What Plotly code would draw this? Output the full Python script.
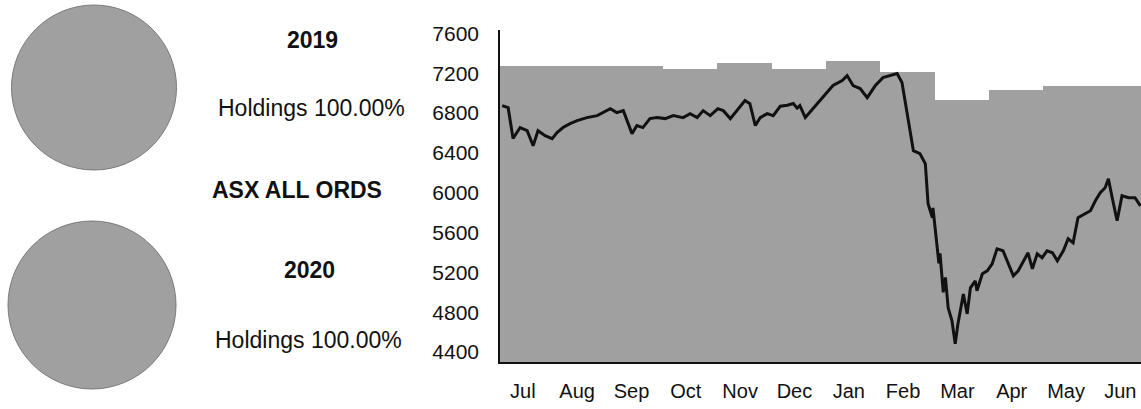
import plotly.graph_objects as go

# ---- data ----
months = ["Jul", "Aug", "Sep", "Oct", "Nov", "Dec", "Jan", "Feb", "Mar", "Apr", "May", "Jun"]
month_bar_values = [7278, 7275, 7270, 7245, 7300, 7245, 7325, 7210, 6935, 7035, 7070, 7070]

# line: position in months since 1 Jul 2019, and ASX All Ords level
line_month_pos = [
    0.04, 0.15, 0.24, 0.37, 0.50, 0.61, 0.70, 0.83, 0.96, 1.05, 1.16, 1.29, 1.42, 1.60, 1.79,
    2.03, 2.15, 2.27, 2.43, 2.52, 2.63, 2.76, 2.89, 3.04, 3.19, 3.37, 3.50, 3.63, 3.74, 3.87,
    4.01, 4.11, 4.24, 4.36, 4.51, 4.60, 4.70, 4.79, 4.92, 5.03, 5.16, 5.29, 5.40, 5.47, 5.52,
    5.62, 5.76, 5.95, 6.13, 6.30, 6.39, 6.50, 6.63, 6.76, 6.91, 7.05, 7.18, 7.31, 7.40, 7.51,
    7.61, 7.73, 7.83, 7.88, 7.96, 7.97, 8.05, 8.08, 8.10, 8.16, 8.20, 8.25, 8.32, 8.38, 8.43,
    8.53, 8.60, 8.66, 8.75, 8.78, 8.88, 8.97, 9.06, 9.15, 9.26, 9.36, 9.45, 9.54, 9.67, 9.72,
    9.80, 9.89, 9.98, 10.07, 10.17, 10.26, 10.37, 10.46, 10.55, 10.64, 10.77, 10.87, 10.96,
    11.05, 11.14, 11.20, 11.27, 11.36, 11.45, 11.57, 11.69, 11.79,
]
line_values = [
    6876, 6855, 6545, 6655, 6624, 6473, 6624, 6574, 6544, 6604, 6655, 6695, 6725, 6755, 6775,
    6845, 6805, 6825, 6594, 6675, 6655, 6745, 6755, 6745, 6775, 6755, 6795, 6755, 6825, 6775,
    6845, 6825, 6745, 6825, 6926, 6895, 6675, 6755, 6795, 6775, 6870, 6880, 6896, 6850, 6876,
    6755, 6845, 6956, 7077, 7127, 7177, 7077, 7047, 6956, 7077, 7157, 7177, 7197, 7107, 6725,
    6423, 6393, 6292, 5890, 5749, 5849, 5447, 5290, 5390, 5000, 5150, 4844, 4713, 4482, 4683,
    4984, 4783, 5045, 5115, 5015, 5186, 5216, 5286, 5437, 5417, 5286, 5166, 5216, 5347, 5397,
    5236, 5387, 5347, 5417, 5397, 5316, 5417, 5538, 5497, 5749, 5789, 5819, 5920,
    6000, 6051, 6140, 5950, 5719, 5970, 5950, 5950, 5869,
]

y_ticks = [4400, 4800, 5200, 5600, 6000, 6400, 6800, 7200, 7600]

holdings_2019 = [100.0]
holdings_2020 = [100.0]

# ---- style ----
GREY = "#a0a0a0"
FONT = "Liberation Sans, Arial, sans-serif"
W, H = 1141, 409

fig = go.Figure()

fig.add_trace(go.Bar(
    x=[i + 0.5 for i in range(len(months))],
    y=month_bar_values,
    width=1.0,
    marker=dict(color=GREY, line=dict(width=0)),
    hoverinfo="skip",
    showlegend=False,
))

fig.add_trace(go.Scatter(
    x=line_month_pos,
    y=line_values,
    mode="lines",
    line=dict(color="#111111", width=3),
    hoverinfo="skip",
    showlegend=False,
))

pie_common = dict(
    labels=["Holdings"],
    marker=dict(colors=[GREY], line=dict(color="#7a7a7a", width=1)),
    textinfo="none",
    hoverinfo="skip",
    sort=False,
    showlegend=False,
)
fig.add_trace(go.Pie(values=holdings_2019,
                     domain=dict(x=[10 / W, 178 / W], y=[(H - 170) / H, (H - 5) / H]),
                     **pie_common))
fig.add_trace(go.Pie(values=holdings_2020,
                     domain=dict(x=[7 / W, 177 / W], y=[(H - 389) / H, (H - 221) / H]),
                     **pie_common))

fig.update_layout(
    width=W, height=H,
    margin=dict(l=0, r=0, t=0, b=0),
    paper_bgcolor="white",
    plot_bgcolor="white",
    bargap=0,
    font=dict(family=FONT, color="#111111", size=20),
    xaxis=dict(
        domain=[500 / W, 1.0],
        range=[0, 11.8],
        tickvals=[i + 0.42 for i in range(len(months))],
        ticktext=months,
        showgrid=False, zeroline=False,
        showline=True, linecolor="#111111", linewidth=1.5,
        ticks="", ticklabelstandoff=10,
        tickfont=dict(size=20),
        automargin=False,
    ),
    yaxis=dict(
        domain=[(H - 362) / H, (H - 30) / H],
        range=[4300, 7635],
        tickvals=y_ticks,
        showgrid=False, zeroline=False,
        showline=True, linecolor="#111111", linewidth=1.5,
        ticks="", ticklabelstandoff=15,
        tickfont=dict(size=21),
        automargin=False,
    ),
)

texts = [
    ("2019", 312, 40, True),
    ("Holdings 100.00%", 311, 108, False),
    ("ASX ALL ORDS", 297, 190, True),
    ("2020", 309, 270, True),
    ("Holdings 100.00%", 308, 340, False),
]
for t, px, py, bold in texts:
    fig.add_annotation(
        x=px / W, y=(H - py) / H, xref="paper", yref="paper",
        text=f"<b>{t}</b>" if bold else t,
        showarrow=False, xanchor="center", yanchor="middle",
        font=dict(family=FONT, size=23, color="#111111"),
    )

fig.write_html(
    "out.html",
    config={"displayModeBar": False},
    post_script="document.body.style.margin='0';document.body.style.overflow='hidden';",
)
